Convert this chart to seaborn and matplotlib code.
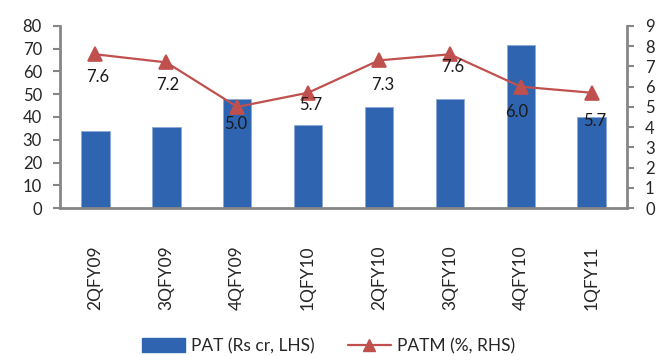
import matplotlib
matplotlib.use("Agg")
import matplotlib.pyplot as plt
import seaborn as sns
import pandas as pd
from matplotlib.lines import Line2D
from matplotlib.patches import Patch

quarters = ["2QFY09", "3QFY09", "4QFY09", "1QFY10", "2QFY10", "3QFY10", "4QFY10", "1QFY11"]
pat = [33.8, 35.6, 47.9, 36.5, 44.4, 47.9, 71.8, 40.1]
patm = [7.6, 7.2, 5.0, 5.7, 7.3, 7.6, 6.0, 5.7]

# vertical / horizontal nudges (pixels) for the margin labels
label_dy = [-23, -23, -17, -12, -25, -13, -25, -28]
label_dx = [2, 1, -2, 3, 4, 3, -4, 3]

sns.set_theme(style="white")
plt.rcParams["font.family"] = ["Lato", "DejaVu Sans"]

BAR = "#2E64B0"
LINE = "#C0504D"
GREY = "#868686"

df = pd.DataFrame({"quarter": quarters, "pat": pat, "patm": patm})

fig = plt.figure(figsize=(6.61, 3.56), dpi=100)
ax = fig.add_axes([0.0908, 0.4157, 0.8578, 0.5113])

sns.barplot(data=df, x="quarter", y="pat", color=BAR, width=0.4,
            saturation=1, ax=ax, edgecolor="#8DA9D8", linewidth=0.6)
ax.set_ylim(0, 80)
ax.set_xlim(-0.5, len(quarters) - 0.5)
ax.set_yticks(range(0, 81, 10))

ax2 = ax.twinx()
sns.pointplot(data=df, x="quarter", y="patm", color=LINE, markers="^",
              linestyles="-", ax=ax2, markersize=10, linewidth=1.6)
ax2.set_ylim(0, 9)
ax2.set_yticks(range(0, 10))
ax2.set_xlim(-0.5, len(quarters) - 0.5)

for i, v in enumerate(patm):
    ax2.annotate(f"{v:.1f}", (i, v), xytext=(label_dx[i], label_dy[i]),
                 textcoords="offset pixels", ha="center", va="center",
                 fontsize=12, color="#1a1a1a")

for a in (ax, ax2):
    a.set_xlabel("")
    a.set_ylabel("")
    for s in a.spines.values():
        s.set_visible(False)

ax.spines["left"].set_visible(True)
ax.spines["bottom"].set_visible(True)
ax2.spines["right"].set_visible(True)
for s in (ax.spines["left"], ax.spines["bottom"], ax2.spines["right"]):
    s.set_color(GREY)
    s.set_linewidth(2)

# ticks: labels at bar centres, tick marks at category boundaries
ax.set_xticks([i - 0.5 for i in range(len(quarters) + 1)])
ax.set_xticklabels([])
ax.set_xticks(range(len(quarters)), minor=True)
ax.set_xticklabels(quarters, minor=True, rotation=90, fontsize=12.5)
ax.tick_params(axis="x", which="major", length=5, width=1.5, color=GREY, direction="out", bottom=True)
ax.tick_params(axis="x", which="minor", length=0, pad=27, bottom=True)
ax.tick_params(axis="y", length=5, width=1.5, color=GREY, direction="out", left=True, labelsize=12, pad=8)
ax2.tick_params(axis="y", length=5, width=1.5, color=GREY, direction="out", right=True, labelsize=12, pad=8)
ax2.set_xticks([])

handles = [Patch(facecolor=BAR, edgecolor=BAR),
           Line2D([0], [0], color=LINE, marker="^", markersize=9, linewidth=1.6)]
fig.legend(handles, ["PAT (Rs cr, LHS)", "PATM (%, RHS)"], loc="center",
           bbox_to_anchor=(0.497, 0.028), ncol=2, frameon=False, fontsize=12.5,
           handlelength=2.5, handleheight=0.9, columnspacing=1.9, handletextpad=0.35)

fig.savefig("out.png", dpi=100)
